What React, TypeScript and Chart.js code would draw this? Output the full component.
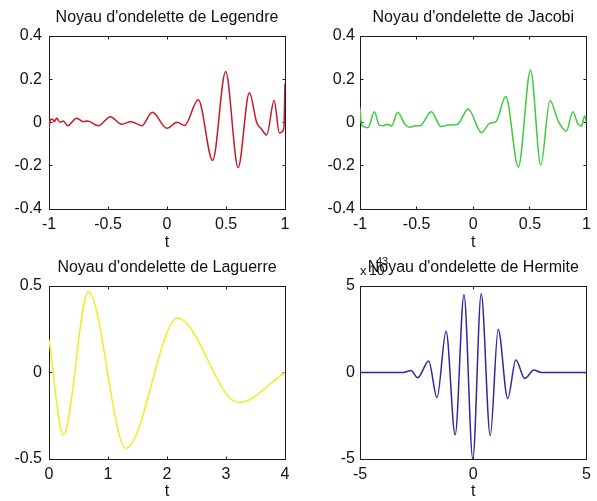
import React, { useEffect, useRef } from "react";
import { Chart, registerables } from "chart.js";

Chart.register(...registerables);

// ---------- data ----------
const legendreT = [-1, -0.99, -0.972, -0.955, -0.935, -0.907, -0.878, -0.842, -0.766, -0.709, -0.672, -0.582, -0.48, -0.384, -0.305, -0.215, -0.124, 0.0, 0.086, 0.148, 0.265, 0.387, 0.497, 0.603, 0.698, 0.76, 0.8, 0.845, 0.908, 0.952, 0.99, 1.0];
const legendreV = [-0.03, 0.01, 0.016, 0.004, 0.02, 0.001, 0.007, -0.015, 0.02, 0.004, 0.007, -0.015, 0.027, -0.008, 0.004, -0.015, 0.047, -0.027, 0.001, -0.014, 0.105, -0.176, 0.236, -0.208, 0.138, 0.0, -0.03, -0.058, 0.102, -0.048, -0.03, 0.18];

const jacobiT = [-1, -0.99, -0.97, -0.93, -0.873, -0.83, -0.79, -0.76, -0.72, -0.667, -0.604, -0.562, -0.51, -0.47, -0.37, -0.285, -0.223, -0.138, -0.045, 0.073, 0.144, 0.2, 0.287, 0.398, 0.506, 0.596, 0.677, 0.752, 0.822, 0.879, 0.921, 0.955, 0.983, 1];
const jacobiV = [0.07, 0.0, -0.018, -0.024, 0.05, -0.012, -0.015, -0.008, -0.015, 0.047, -0.008, -0.022, -0.015, -0.015, 0.05, -0.019, -0.012, -0.008, 0.062, -0.047, -0.004, 0.004, 0.12, -0.205, 0.243, -0.197, 0.102, 0.004, -0.04, 0.05, -0.004, -0.016, 0.03, 0.0];

const laguerreT = [0, 0.243, 0.667, 1.305, 2.18, 3.21, 4];
const laguerreV = [0.19, -0.361, 0.467, -0.438, 0.313, -0.174, 0.0];

// Hermite values in units of 1e43
const hermiteT = [-5, -3.1, -2.75, -2.45, -1.97, -1.6, -1.2, -0.8, -0.41, -0.02, 0.35, 0.75, 1.1, 1.52, 1.88, 2.27, 2.68, 3.0, 5];
const hermiteV = [0, 0, 0.12, -0.3, 0.66, -1.45, 2.38, -3.6, 4.5, -5.0, 4.55, -3.65, 2.5, -1.5, 0.72, -0.34, 0.14, 0, 0];

const jlXTicks = [-1, -0.5, 0, 0.5, 1];
const jlYTicks = [-0.4, -0.2, 0, 0.2, 0.4];
const lagXTicks = [0, 1, 2, 3, 4];
const lagYTicks = [-0.5, 0, 0.5];
const herXTicks = [-5, 0, 5];
const herYTicks = [-5, 0, 5];

const titles = [
  "Noyau d'ondelette de Legendre",
  "Noyau d'ondelette de Jacobi",
  "Noyau d'ondelette de Laguerre",
  "Noyau d'ondelette de Hermite",
];
const xLabel = "t";
const hermiteExponent = "43";

// ---------- styling ----------
const FONT = "'Liberation Sans', Arial, Helvetica, sans-serif";
const TEXT = "#111111";
const AXIS = "#1c1c1c";

const boxPlugin = {
  id: "matlabBox",
  beforeDatasetsDraw(chart: any) {
    const { ctx, chartArea: a, scales } = chart;
    const L = Math.floor(a.left) + 0.5;
    const R = Math.floor(a.right) + 0.5;
    const T = Math.floor(a.top) + 0.5;
    const B = Math.floor(a.bottom) + 0.5;
    ctx.save();
    ctx.strokeStyle = AXIS;
    ctx.lineWidth = 1;
    ctx.strokeRect(L, T, R - L, B - T);
    const tl = 3;
    ctx.beginPath();
    for (const t of scales.x.ticks) {
      const px = Math.floor(scales.x.getPixelForValue(t.value)) + 0.5;
      ctx.moveTo(px, B);
      ctx.lineTo(px, B - tl);
      ctx.moveTo(px, T);
      ctx.lineTo(px, T + tl);
    }
    for (const t of scales.y.ticks) {
      const py = Math.floor(scales.y.getPixelForValue(t.value)) + 0.5;
      ctx.moveTo(L, py);
      ctx.lineTo(L + tl, py);
      ctx.moveTo(R, py);
      ctx.lineTo(R - tl, py);
    }
    ctx.stroke();
    ctx.restore();
  },
  afterDraw(chart: any, _args: any, opts: any) {
    const { ctx, chartArea: a } = chart;
    ctx.save();
    ctx.fillStyle = TEXT;
    // axes title, centred over the plot box (MATLAB style)
    if (opts && opts.title) {
      ctx.font = `16px ${FONT}`;
      ctx.textAlign = "center";
      ctx.textBaseline = "middle";
      ctx.fillText(opts.title, (a.left + a.right) / 2, 18);
    }
    if (opts && opts.exponent) {
      ctx.textBaseline = "alphabetic";
      ctx.textAlign = "left";
      ctx.font = `13px ${FONT}`;
      ctx.fillText("x", a.left, a.top - 11);
      ctx.font = `14px ${FONT}`;
      ctx.fillText("10", a.left + 9, a.top - 11);
      ctx.font = `11px ${FONT}`;
      ctx.fillText(opts.exponent, a.left + 16, a.top - 21);
    }
    ctx.restore();
  },
};

type PanelProps = {
  left: number;
  top: number;
  width: number;
  height: number;
  title: string;
  t: number[];
  v: number[];
  color: string;
  xMin: number;
  xMax: number;
  yMin: number;
  yMax: number;
  xTicks: number[];
  yTicks: number[];
  yAxisWidth: number;
  xAxisHeight: number;
  rightPad: number;
  yTickPad: number;
  xTitlePadBottom: number;
  exponent?: string;
};

function Panel(p: PanelProps) {
  const ref = useRef<HTMLCanvasElement>(null);
  useEffect(() => {
    const points = p.t.map((x, i) => ({ x, y: p.v[i] }));
    const chart = new Chart(ref.current as HTMLCanvasElement, {
      type: "line",
      data: {
        datasets: [
          {
            data: points,
            borderColor: p.color,
            borderWidth: 1.5,
            pointRadius: 0,
            fill: false,
            cubicInterpolationMode: "monotone",
          },
        ],
      },
      options: {
        animation: false,
        responsive: false,
        devicePixelRatio: 1,
        events: [],
        layout: {
          autoPadding: false,
          padding: { left: 0, right: p.rightPad, top: 36, bottom: 0 },
        },
        plugins: {
          legend: { display: false },
          tooltip: { enabled: false },
          title: { display: false },
          matlabBox: { exponent: p.exponent, title: p.title },
        } as any,
        scales: {
          x: {
            type: "linear",
            min: p.xMin,
            max: p.xMax,
            grid: { display: false, drawTicks: false },
            border: { display: false },
            ticks: {
              color: TEXT,
              font: { family: FONT, size: 16 },
              padding: 6,
              maxRotation: 0,
              autoSkip: false,
              callback: (val: any) => String(val),
            },
            afterBuildTicks: (s: any) => {
              s.ticks = p.xTicks.map((value) => ({ value }));
            },
            afterFit: (s: any) => {
              s.height = p.xAxisHeight;
            },
            title: {
              display: true,
              text: xLabel,
              color: TEXT,
              font: { family: FONT, size: 16, lineHeight: 1 },
              padding: { top: 0, bottom: p.xTitlePadBottom },
            },
          },
          y: {
            type: "linear",
            min: p.yMin,
            max: p.yMax,
            grid: { display: false, drawTicks: false },
            border: { display: false },
            ticks: {
              color: TEXT,
              font: { family: FONT, size: 16 },
              padding: p.yTickPad,
              autoSkip: false,
              callback: (val: any) => String(val),
            },
            afterBuildTicks: (s: any) => {
              s.ticks = p.yTicks.map((value) => ({ value }));
            },
            afterFit: (s: any) => {
              s.width = p.yAxisWidth;
            },
          },
        },
      } as any,
      plugins: [boxPlugin],
    });
    return () => chart.destroy();
  }, []);
  return (
    <canvas
      ref={ref}
      width={p.width}
      height={p.height}
      style={{ position: "absolute", left: p.left, top: p.top, width: p.width, height: p.height }}
    />
  );
}

export default function App() {
  return (
    <div
      style={{
        position: "absolute",
        left: 0,
        top: 0,
        width: 597,
        height: 501,
        overflow: "hidden",
        background: "#ffffff",
      }}
    >
      <Panel
        left={0} top={0} width={298} height={250}
        title={titles[0]} t={legendreT} v={legendreV} color="#c81828"
        xMin={-1} xMax={1} yMin={-0.4} yMax={0.4}
        xTicks={jlXTicks} yTicks={jlYTicks}
        yAxisWidth={49} xAxisHeight={41} rightPad={13} yTickPad={7} xTitlePadBottom={-1}
      />
      <Panel
        left={298} top={0} width={299} height={250}
        title={titles[1]} t={jacobiT} v={jacobiV} color="#3ccc3c"
        xMin={-1} xMax={1} yMin={-0.4} yMax={0.4}
        xTicks={jlXTicks} yTicks={jlYTicks}
        yAxisWidth={62} xAxisHeight={41} rightPad={1} yTickPad={5} xTitlePadBottom={-1}
      />
      <Panel
        left={0} top={250} width={298} height={251}
        title={titles[2]} t={laguerreT} v={laguerreV} color="#eeee22"
        xMin={0} xMax={4} yMin={-0.5} yMax={0.5}
        xTicks={lagXTicks} yTicks={lagYTicks}
        yAxisWidth={49} xAxisHeight={42} rightPad={13} yTickPad={7} xTitlePadBottom={1}
      />
      <Panel
        left={298} top={250} width={299} height={251}
        title={titles[3]} t={hermiteT} v={hermiteV} color="#2a2a9e"
        xMin={-5} xMax={5} yMin={-5} yMax={5}
        xTicks={herXTicks} yTicks={herYTicks}
        yAxisWidth={62} xAxisHeight={42} rightPad={1} yTickPad={5} xTitlePadBottom={1}
        exponent={hermiteExponent}
      />
    </div>
  );
}
